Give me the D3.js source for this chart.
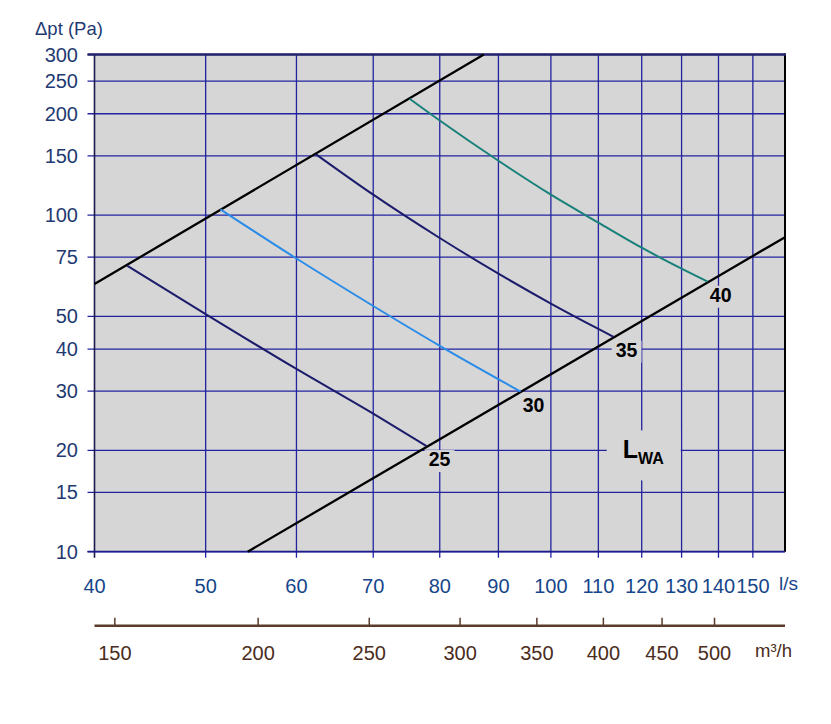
<!DOCTYPE html>
<html>
<head>
<meta charset="utf-8">
<style>
  body { margin: 0; background: #fff; }
  svg { display: block; font-family: "Liberation Sans", Arial, Helvetica, sans-serif; }
</style>
</head>
<body>
<div id="chart"></div>
<script src="https://d3js.org/d3.v7.min.js"></script>
<script>
'use strict';

// axis ticks
var flowTicks = [40, 50, 60, 70, 80, 90, 100, 110, 120, 130, 140, 150];      // l/s
var pressureTicks = [10, 15, 20, 30, 40, 50, 75, 100, 150, 200, 250, 300];  // Pa
var m3hTicks = [150, 200, 250, 300, 350, 400, 450, 500];                    // m3/h

// system curves (l/s, Pa)
var upperLimit = [[40, 62.4], [87.4, 300]];
var lowerLimit = [[54.4, 10], [160, 86]];

// sound power LWA curves (l/s, Pa)
var lwaNames = ['25', '30', '35', '40'];
var lwa25 = [[42.7, 70.8], [50, 50.8], [60, 34.9], [70, 25.7], [77.9, 20.6]];
var lwa30 = [[51.5, 104], [60, 74.3], [70, 53.7], [80, 40.9], [94.1, 29.9]];
var lwa35 = [[62.4, 151.6], [70, 115], [80, 85.5], [90, 67], [100, 54.6], [110, 45.9], [113.4, 43.5]];
var lwa40 = [[75.3, 221.7], [80, 191], [90, 145], [100, 115], [110, 95], [120, 80], [130, 69.3], [137, 63.4]];

var width = 831, height = 724;
var pLeft = 94.5, pRight = 785, pTop = 54.5, pBottom = 551.7;

var svg = d3.select('#chart').append('svg')
    .attr('width', width).attr('height', height);

var x = d3.scaleLog().domain([40, 160]).range([pLeft, pRight]);
var y = d3.scaleLog().domain([10, 300]).range([pBottom, pTop]);

var gridColor = '#2323a0',
    yLabelColor = '#1f3a72',
    xLabelColor = '#16468a',
    brown = '#4a2c20';

// plot background
svg.append('rect')
    .attr('x', pLeft).attr('y', pTop)
    .attr('width', pRight - pLeft).attr('height', pBottom - pTop)
    .attr('fill', '#d6d6d6');

// grid
svg.append('g').selectAll('line')
    .data(flowTicks.slice(1))
    .enter().append('line')
    .attr('x1', d => x(d)).attr('x2', d => x(d))
    .attr('y1', pTop).attr('y2', pBottom + 6)
    .attr('stroke', gridColor).attr('stroke-width', 1.3);

svg.append('g').selectAll('line')
    .data(pressureTicks)
    .enter().append('line')
    .attr('x1', pLeft - 7).attr('x2', pRight)
    .attr('y1', d => y(d)).attr('y2', d => y(d))
    .attr('stroke', gridColor).attr('stroke-width', 1.3);

// frame
svg.append('line').attr('x1', pLeft).attr('x2', pLeft).attr('y1', pTop).attr('y2', pBottom + 6)
    .attr('stroke', '#1a1a50').attr('stroke-width', 1.6);
svg.append('line').attr('x1', pRight).attr('x2', pRight).attr('y1', pTop - 1).attr('y2', pBottom)
    .attr('stroke', '#000').attr('stroke-width', 2);
svg.append('line').attr('x1', pLeft - 7).attr('x2', pRight + 1).attr('y1', pTop).attr('y2', pTop)
    .attr('stroke', '#26266e').attr('stroke-width', 2.4);
svg.append('line').attr('x1', pLeft - 7).attr('x2', pRight).attr('y1', pBottom).attr('y2', pBottom)
    .attr('stroke', '#1a1a8a').attr('stroke-width', 1.8);

// y tick labels
svg.append('g').selectAll('text')
    .data(pressureTicks)
    .enter().append('text')
    .attr('x', 78).attr('y', d => y(d) + 7)
    .attr('text-anchor', 'end')
    .attr('font-size', 20)
    .attr('fill', yLabelColor)
    .text(d => d);

svg.append('text')
    .attr('x', 35).attr('y', 35)
    .attr('font-size', 18.5)
    .attr('fill', yLabelColor)
    .text('\u0394pt (Pa)');

// x tick labels (l/s)
svg.append('g').selectAll('text')
    .data(flowTicks)
    .enter().append('text')
    .attr('x', d => x(d)).attr('y', 593)
    .attr('text-anchor', 'middle')
    .attr('font-size', 20)
    .attr('fill', xLabelColor)
    .text(d => d);

svg.append('text')
    .attr('x', 779).attr('y', 590)
    .attr('font-size', 19)
    .attr('fill', xLabelColor)
    .text('l/s');

// second axis m3/h
var m3Y = 625.7;
svg.append('line')
    .attr('x1', pLeft).attr('x2', pRight)
    .attr('y1', m3Y).attr('y2', m3Y)
    .attr('stroke', '#5a3a2c').attr('stroke-width', 2.6);

svg.append('g').selectAll('line')
    .data(m3hTicks)
    .enter().append('line')
    .attr('x1', d => x(d / 3.6)).attr('x2', d => x(d / 3.6))
    .attr('y1', m3Y - 8).attr('y2', m3Y)
    .attr('stroke', '#5a3a2c').attr('stroke-width', 1.5);

svg.append('g').selectAll('text')
    .data(m3hTicks)
    .enter().append('text')
    .attr('x', d => x(d / 3.6)).attr('y', 660)
    .attr('text-anchor', 'middle')
    .attr('font-size', 20)
    .attr('fill', brown)
    .text(d => d);

svg.append('text')
    .attr('x', 755).attr('y', 657)
    .attr('font-size', 18.5)
    .attr('fill', brown)
    .text('m\u00b3/h');

// curve labels with grey knock-out behind them
var curves = [
  { name: lwaNames[0], pts: lwa25, color: '#1c1c6c' },
  { name: lwaNames[1], pts: lwa30, color: '#2a8ce8' },
  { name: lwaNames[2], pts: lwa35, color: '#1c1c6c' },
  { name: lwaNames[3], pts: lwa40, color: '#18807a' }
];

var labelG = svg.append('g');
curves.forEach(function (c) {
  var end = c.pts[c.pts.length - 1];
  var t = labelG.append('text')
      .attr('x', x(end[0]) + 13).attr('y', y(end[1]) + 20)
      .attr('text-anchor', 'middle')
      .attr('font-size', 19.5)
      .attr('font-weight', 'bold')
      .attr('fill', '#000')
      .text(c.name);
  var b = t.node().getBBox();
  labelG.insert('rect', 'text')
      .attr('x', b.x - 4).attr('y', b.y + 2)
      .attr('width', b.width + 8).attr('height', b.height)
      .attr('fill', '#d6d6d6');
});

// LWA legend label
var lx = x(120) - 19, ly = y(20) + 8;
labelG.append('rect')
    .attr('x', lx - 16).attr('y', ly - 28)
    .attr('width', 74).attr('height', 50)
    .attr('fill', '#d6d6d6');
var lwa = labelG.append('text')
    .attr('x', lx).attr('y', ly)
    .attr('font-weight', 'bold')
    .attr('fill', '#000');
lwa.append('tspan').attr('font-size', 25).text('L');
lwa.append('tspan').attr('font-size', 16).attr('dy', 6).text('WA');

// lines
var line = d3.line().x(d => x(d[0])).y(d => y(d[1])).curve(d3.curveMonotoneX);

svg.append('path').datum(upperLimit)
    .attr('d', line).attr('fill', 'none')
    .attr('stroke', '#000').attr('stroke-width', 2.3);
svg.append('path').datum(lowerLimit)
    .attr('d', line).attr('fill', 'none')
    .attr('stroke', '#000').attr('stroke-width', 2.3);

svg.append('g').selectAll('path')
    .data(curves)
    .enter().append('path')
    .attr('d', d => line(d.pts))
    .attr('fill', 'none')
    .attr('stroke', d => d.color)
    .attr('stroke-width', 2);
</script>
</body>
</html>
